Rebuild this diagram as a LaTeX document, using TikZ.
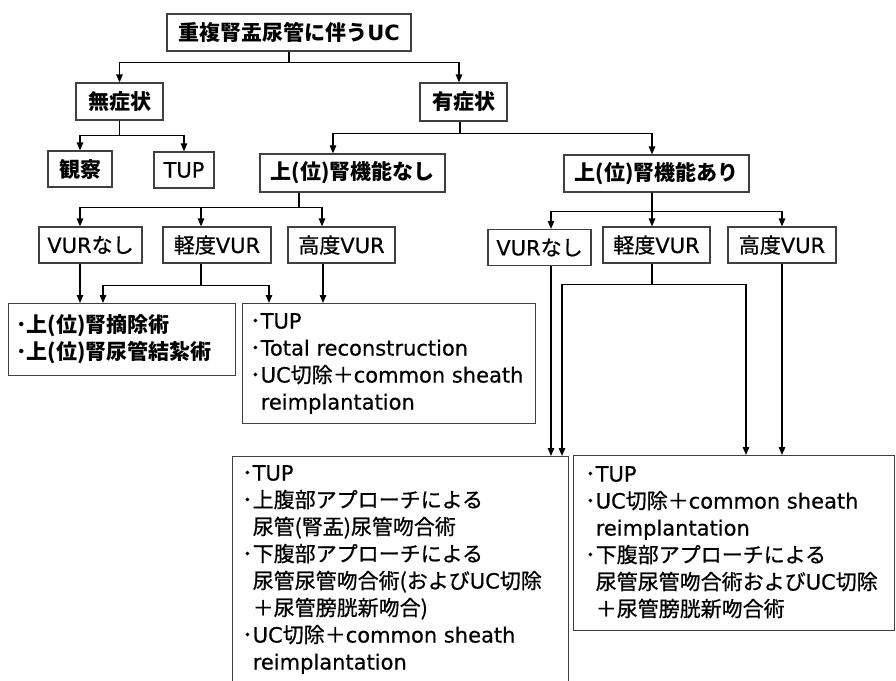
\documentclass[tikz,border=0pt]{standalone}
\usepackage{fontspec}
\setmainfont{Noto Sans CJK JP}[UprightFeatures={FakeBold=0.7}]
\newfontfamily\latf{DejaVu Sans}[UprightFeatures={FakeBold=0.5}]
\usetikzlibrary{arrows.meta,calc}
\definecolor{boxc}{HTML}{404040}
\newcommand{\blt}{･}
\newcommand{\indt}{\hphantom{･}}
\newcommand{\Lat}[1]{{\latf #1}}
\tikzset{
  bx/.style={draw=boxc, line width=1.2pt, inner sep=0pt, font=\fontsize{21}{25}\selectfont},
  bbx/.style={bx, font=\fontsize{21}{25}\selectfont\bfseries},
  rbox/.style={draw=boxc, line width=1.2pt, inner sep=0pt, anchor=north west},
  lst/.style={inner sep=0pt, anchor=north west, align=left, font=\fontsize{21}{27}\selectfont},
  arr/.style={line width=1.3pt, -{Triangle[length=8pt,width=6.5pt]}},
}
\begin{document}
\begin{tikzpicture}[x=1pt,y=-1pt]
\useasboundingbox (0,0) rectangle (896,680);
\fill[white] (0,0) rectangle (896,680);
\clip (0,0) rectangle (896,680);

% level 0-2
\node[bbx, minimum width=244, minimum height=37] (top) at (289,32.5) {重複腎盂尿管に伴う\Lat{UC}};
\node[bbx, minimum width=87, minimum height=37] (mu) at (119.5,101.5) {無症状};
\node[bbx, minimum width=87, minimum height=38] (yu) at (463.5,102) {有症状};
\node[bbx, minimum width=64, minimum height=36] (kan) at (80,169) {観察};
\node[bx, minimum width=60, minimum height=36] (tup) at (184,170) {\Lat{TUP}};
\node[bbx, minimum width=185, minimum height=38] (nashi) at (352.5,173) {上(位)腎機能なし};
\node[bbx, minimum width=185, minimum height=37] (ari) at (656.5,173.5) {上(位)腎機能あり};

% VUR level
\node[bx, minimum width=103, minimum height=36] (vn1) at (90.5,245) {\Lat{VUR}なし};
\node[bx, minimum width=108, minimum height=36] (kd1) at (217,245) {軽度\Lat{VUR}};
\node[bx, minimum width=107, minimum height=36] (hd1) at (341.5,245) {高度\Lat{VUR}};
\node[bx, minimum width=103, minimum height=36] (vn2) at (539.5,247.5) {\Lat{VUR}なし};
\node[bx, minimum width=107, minimum height=36] (kd2) at (656.5,245) {軽度\Lat{VUR}};
\node[bx, minimum width=108, minimum height=36] (hd2) at (782,245) {高度\Lat{VUR}};

% result boxes
\node[rbox, minimum width=227, minimum height=72] (resA) at (8,303) {};
\node[rbox, minimum width=293, minimum height=120] (resB) at (242,303) {};
\node[rbox, minimum width=336, minimum height=260] (resC) at (232,456) {};
\node[rbox, minimum width=321, minimum height=175] (resD) at (573,455) {};

\node[lst, font=\fontsize{21}{27}\selectfont\bfseries] (tA) at ([xshift=8pt,yshift=-11pt]resA.north west)
  {\blt 上(位)腎摘除術\\\blt 上(位)腎尿管結紮術};
\node[lst] (tB) at ([xshift=8pt,yshift=-10pt]resB.north west)
  {\blt \Lat{TUP}\\\blt \Lat{Total reconstruction}\\\blt \Lat{UC}切除＋\Lat{common sheath}\\\indt \Lat{reimplantation}};
\node[lst] (tC) at ([xshift=10pt,yshift=-9pt]resC.north west)
  {\blt \Lat{TUP}\\\blt 上腹部アプローチによる\\\indt 尿管(腎盂)尿管吻合術\\\blt 下腹部アプローチによる\\\indt 尿管尿管吻合術(および\Lat{UC}切除\\\indt ＋尿管膀胱新吻合)\\\blt \Lat{UC}切除＋\Lat{common sheath}\\\indt \Lat{reimplantation}};
\node[lst] (tD) at ([xshift=12pt,yshift=-11pt]resD.north west)
  {\blt \Lat{TUP}\\\blt \Lat{UC}切除＋\Lat{common sheath}\\\indt \Lat{reimplantation}\\\blt 下腹部アプローチによる\\\indt 尿管尿管吻合術および\Lat{UC}切除\\\indt ＋尿管膀胱新吻合術};

% connectors
\draw[arr] (top.south) -- ++(0,11) -| (mu.north);
\draw[arr] (top.south) -- ++(0,11) -| ([xshift=-4.5pt]yu.north);

\draw[arr] (mu.south) -- ++(0,15) -| (kan.north);
\draw[arr] (mu.south) -- ++(0,15) -| (tup.north);

\draw[arr] ([xshift=-3.5pt]yu.south) -- ++(0,12) -| ([xshift=-19.5pt]nashi.north);
\draw[arr] ([xshift=-3.5pt]yu.south) -- ++(0,12) -| ([xshift=-4.5pt]ari.north);

\draw[arr] ([xshift=-53.5pt]nashi.south) -- ++(0,15) -| ([xshift=-10.5pt]vn1.north);
\draw[arr] ([xshift=-53.5pt]nashi.south) -- ++(0,15) -| ([xshift=-16pt]kd1.north);
\draw[arr] ([xshift=-53.5pt]nashi.south) -- ++(0,15) -| ([xshift=-19.5pt]hd1.north);

\draw[arr] ([xshift=-4.5pt]ari.south) -- ++(0,19) -| ([xshift=11.5pt]vn2.north);
\draw[arr] ([xshift=-4.5pt]ari.south) -- ([xshift=-4.5pt]kd2.north);
\draw[arr] ([xshift=-4.5pt]ari.south) -- ++(0,19) -| (hd2.north);

\draw[arr] ([xshift=-10.5pt]vn1.south) -- ([xshift=-10.5pt]vn1.south |- resA.north);
\draw[arr] ([xshift=-16pt]kd1.south) -- ++(0,22) -| ([xshift=95pt]resA.north west);
\draw[arr] ([xshift=-16pt]kd1.south) -- ++(0,22) -| ([xshift=27pt]resB.north west);
\draw[arr] ([xshift=-18.5pt]hd1.south) -- ([xshift=-18.5pt]hd1.south |- resB.north);

\draw[arr] ([xshift=11.5pt]vn2.south) -- ([xshift=11.5pt]vn2.south |- resC.north);
\draw[arr] ([xshift=-4.5pt]kd2.south) -- ++(0,21) -| ([xshift=330pt]resC.north west);
\draw[arr] ([xshift=-4.5pt]kd2.south) -- ++(0,21) -| ([xshift=173pt]resD.north west);
\draw[arr] (hd2.south) -- (hd2.south |- resD.north);
\end{tikzpicture}
\end{document}
